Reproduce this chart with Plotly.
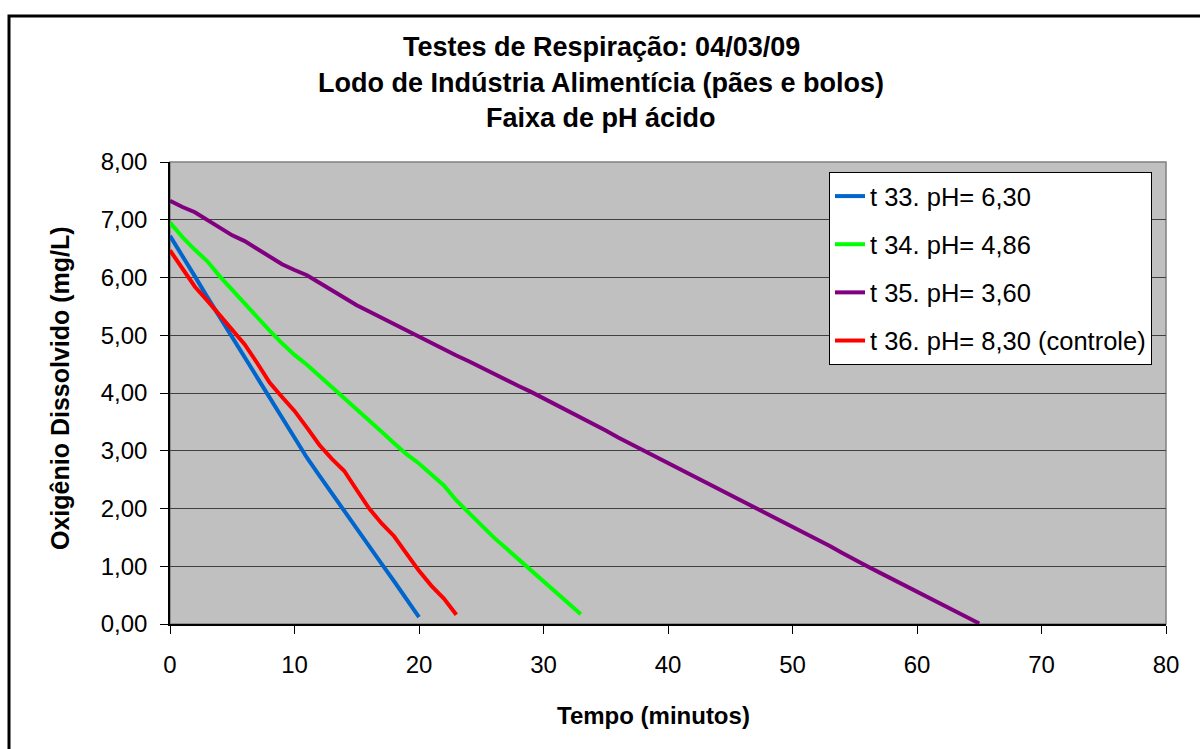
import plotly.graph_objects as go

# ---- data ----
t_blue = list(range(0, 21))
o2_blue = [6.72, 6.38, 6.02, 5.66, 5.31, 4.95, 4.60, 4.25, 3.90, 3.56, 3.20,
           2.88, 2.57, 2.26, 1.96, 1.66, 1.35, 1.04, 0.74, 0.43, 0.12]

t_green = list(range(0, 34))
o2_green = [6.95, 6.70, 6.48, 6.28, 6.02, 5.78, 5.54, 5.30, 5.08, 4.86, 4.66,
            4.49, 4.30, 4.10, 3.91, 3.72, 3.53, 3.33, 3.13, 2.94, 2.78,
            2.60, 2.40, 2.14, 1.92, 1.72, 1.50, 1.31, 1.12, 0.93, 0.74,
            0.55, 0.36, 0.17]

t_purple = list(range(0, 66))
o2_purple = [7.33, 7.22, 7.13, 6.99, 6.85, 6.73, 6.63, 6.50, 6.36, 6.23, 6.13,
             6.04, 5.91, 5.78, 5.64, 5.52, 5.41, 5.30, 5.19, 5.08, 4.98,
             4.87, 4.76, 4.65, 4.55, 4.44, 4.33, 4.23, 4.12, 4.02, 3.91,
             3.79, 3.68, 3.57, 3.46, 3.35, 3.23, 3.12, 3.00, 2.89, 2.78,
             2.67, 2.56, 2.45, 2.34, 2.23, 2.12, 2.01, 1.90, 1.79, 1.68,
             1.57, 1.46, 1.35, 1.23, 1.11, 1.00, 0.89, 0.78, 0.67, 0.56,
             0.45, 0.34, 0.23, 0.11, 0.01]

t_red = list(range(0, 24))
o2_red = [6.47, 6.15, 5.84, 5.60, 5.35, 5.08, 4.84, 4.52, 4.18, 3.93, 3.69,
          3.40, 3.10, 2.86, 2.65, 2.32, 2.00, 1.74, 1.52, 1.22, 0.92,
          0.66, 0.44, 0.16]

series_names = ["t 33. pH= 6,30", "t 34. pH= 4,86", "t 35. pH= 3,60",
                "t 36. pH= 8,30 (controle)"]
series_colors = ["#0066CC", "#00FF00", "#800080", "#FF0000"]

y_tickvals = [0, 1, 2, 3, 4, 5, 6, 7, 8]
y_ticktext = ["0,00", "1,00", "2,00", "3,00", "4,00", "5,00", "6,00", "7,00", "8,00"]
x_tickvals = [0, 10, 20, 30, 40, 50, 60, 70, 80]

title_lines = ["Testes de Respiração: 04/03/09",
               "Lodo de Indústria Alimentícia (pães e bolos)",
               "Faixa de pH ácido"]
x_title = "Tempo (minutos)"
y_title = "Oxigênio Dissolvido (mg/L)"

FONT = "Liberation Sans"

# ---- figure ----
W, H = 1200, 749
L, R, T, B = 170, 34, 162, 125
pw, ph = W - L - R, H - T - B

def px_x(px):
    return (px - L) / pw

def px_y(py):
    return (H - B - py) / ph

fig = go.Figure()
all_data = [(t_blue, o2_blue), (t_green, o2_green), (t_purple, o2_purple), (t_red, o2_red)]
for i, ((tx, ty), name, col) in enumerate(zip(all_data, series_names, series_colors)):
    fig.add_trace(go.Scatter(x=tx, y=ty, mode="lines", name=name,
                             legendgroup=f"g{i}",
                             line=dict(color=col, width=4)))

annotations = []
title_y = [47, 83, 118]
for txt, yy in zip(title_lines, title_y):
    annotations.append(dict(text=f"<b>{txt}</b>", x=px_x(601), y=px_y(yy),
                            xref="paper", yref="paper", showarrow=False,
                            xanchor="center", yanchor="middle",
                            font=dict(family=FONT, size=27, color="black")))
annotations.append(dict(text=f"<b>{x_title}</b>", x=px_x(653), y=px_y(715),
                        xref="paper", yref="paper", showarrow=False,
                        xanchor="center", yanchor="middle",
                        font=dict(family=FONT, size=24, color="black")))
annotations.append(dict(text=f"<b>{y_title}</b>", x=px_x(60), y=px_y(388),
                        xref="paper", yref="paper", showarrow=False, textangle=-90,
                        xanchor="center", yanchor="middle",
                        font=dict(family=FONT, size=25, color="black")))

shapes = [
    dict(type="rect", xref="paper", yref="paper", x0=0, x1=1, y0=0, y1=1,
         line=dict(color="#808080", width=1.5), layer="below"),
    dict(type="rect", xref="paper", yref="paper",
         x0=px_x(9), x1=px_x(1260), y0=px_y(16), y1=px_y(800),
         line=dict(color="black", width=3), layer="above"),
]

fig.update_layout(
    width=W, height=H,
    margin=dict(l=L, r=R, t=T, b=B, pad=0),
    paper_bgcolor="white",
    plot_bgcolor="#C0C0C0",
    font=dict(family=FONT, size=24, color="black"),
    showlegend=True,
    legend=dict(x=px_x(829), y=px_y(172), xanchor="left", yanchor="top",
                bgcolor="white", bordercolor="black", borderwidth=1,
                font=dict(family=FONT, size=25.5, color="black"),
                tracegroupgap=12, traceorder="grouped",
                itemwidth=30),
    annotations=annotations,
    shapes=shapes,
)

fig.update_xaxes(range=[0, 80], tickvals=x_tickvals, ticks="outside", ticklen=8,
                 tickcolor="black", showline=True, linecolor="black", linewidth=1.5,
                 showgrid=False, zeroline=False, ticklabelstandoff=10,
                 tickfont=dict(family=FONT, size=24, color="black"))
fig.update_yaxes(range=[0, 8], tickvals=y_tickvals, ticktext=y_ticktext,
                 ticks="outside", ticklen=8, tickcolor="black",
                 showline=True, linecolor="black", linewidth=1.5,
                 showgrid=True, gridcolor="#404040", gridwidth=1,
                 zeroline=False, ticklabelstandoff=8,
                 tickfont=dict(family=FONT, size=24, color="black"))

fig.write_html("out.html")
